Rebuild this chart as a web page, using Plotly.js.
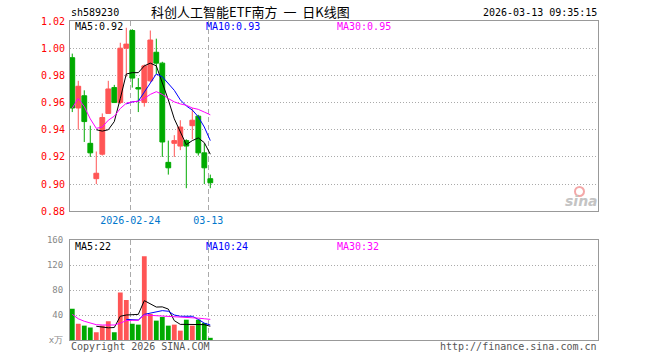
<!DOCTYPE html>
<html>
<head>
<meta charset="utf-8">
<script src="https://cdn.plot.ly/plotly-3.0.1.min.js"></script>
<style>html,body{margin:0;padding:0;background:#fff;}#chart{width:660px;height:360px;}</style>
</head>
<body>
<div id="chart"></div>
<script>
const dates = ['2026-02-02','2026-02-03','2026-02-04','2026-02-05','2026-02-06','2026-02-09','2026-02-10','2026-02-11','2026-02-12','2026-02-13','2026-02-24','2026-02-25','2026-02-26','2026-02-27','2026-03-02','2026-03-03','2026-03-04','2026-03-05','2026-03-06','2026-03-09','2026-03-10','2026-03-11','2026-03-12','2026-03-13'];
const openP  = [0.993,0.956,0.965,0.930,0.904,0.922,0.952,0.971,0.960,1.000,1.013,0.971,0.960,0.976,0.997,0.989,0.916,0.930,0.928,0.932,0.943,0.950,0.923,0.904];
const highP  = [0.996,0.976,0.969,0.943,0.924,0.952,0.976,0.973,1.004,1.015,1.014,0.978,0.988,1.013,1.007,0.990,0.932,0.936,0.947,0.933,0.956,0.951,0.930,0.907];
const lowP   = [0.953,0.940,0.931,0.920,0.900,0.921,0.952,0.960,0.959,0.979,0.971,0.953,0.957,0.975,0.981,0.920,0.907,0.920,0.925,0.897,0.933,0.921,0.900,0.897];
const closeP = [0.956,0.972,0.946,0.923,0.908,0.949,0.970,0.960,1.000,1.003,0.978,0.970,0.987,1.006,0.989,0.931,0.912,0.932,0.942,0.928,0.947,0.923,0.912,0.901];
const ma5P  = [null,null,null,null,0.940,0.939,0.940,0.946,0.963,0.981,0.982,0.982,0.987,0.989,0.987,0.975,0.962,0.948,0.9385,0.929,0.932,0.934,0.9305,0.922];
const ma10P = [null,null,null,null,null,null,null,null,null,0.959,0.9605,0.961,0.968,0.975,0.981,0.979,0.974,0.969,0.962,0.9575,0.9545,0.9495,0.942,0.932];
const ma30P = [0.956,0.963,0.957,0.948,0.941,0.942,0.947,0.950,0.9556,0.9595,0.9605,0.961,0.963,0.966,0.968,0.966,0.963,0.9605,0.959,0.958,0.956,0.955,0.953,0.951];
const volume = [50,26,23,20,12.4,23,30,12.4,76,64,26,24.6,134,41.6,31,36.8,23,24.6,15,32.5,23,32.5,27.3,3.5];
const ma5V  = [null,null,null,null,22,21,19.5,20,38,40,40,41,63,58,52.7,53,49.5,31,25,25,24.5,24.6,24.6,22];
const ma10V = [null,null,null,null,null,null,null,null,null,33,32,32,41,43,46,47,46,40,38,38,38,33,27,24];
const ma30V = [41,34,30,27,24.5,24,24,24,27,31,31.5,31.5,40,39.5,39,39,38.5,38,37.5,37,36,35,34,33];
const priceTicks = [0.88,0.90,0.92,0.94,0.96,0.98,1.00,1.02];
const volTicks = [0,40,80,120,160];
const volTickText = ['x万','40','80','120','160'];
const dateTickDates = ['2026-02-24','2026-03-13'];
const dateTickText = ['2026-02-24','03-13'];
const legendPrice = ['MA5:0.92','MA10:0.93','MA30:0.95'];
const legendVol = ['MA5:22','MA10:24','MA30:32'];
const code = 'sh589230';
const titleText = '科创人工智能ETF南方\u00a0\u00a0一\u00a0\u00a0日K线图';
const stamp = '2026-03-13 09:35:15';

const RED = '#ff5555', GREEN = '#00aa00';
const idx = dates.map((d, i) => i);
const upColor = closeP.map((c, i) => c >= openP[i] ? RED : GREEN);
const tickIdx = dateTickDates.map(d => dates.indexOf(d) - 0.33);

// pixel -> paper helpers (plot area: x 70..598, y 21..340)
const L = 70, R = 598, T = 21, B = 340;
const px = v => (v - L) / (R - L);
const py = v => (B - v) / (B - T);
const mono = 'DejaVu Sans Mono, monospace';

const traces = [
  {type:'candlestick', x: idx, open: openP, high: highP, low: lowP, close: closeP,
   xaxis:'x', yaxis:'y', hoverinfo:'skip', whiskerwidth:0,
   increasing:{line:{color:RED,width:1}, fillcolor:RED},
   decreasing:{line:{color:GREEN,width:1}, fillcolor:GREEN}},
  {type:'scatter', mode:'lines', x: idx, y: ma5P, xaxis:'x', yaxis:'y', line:{color:'#000',width:1}, hoverinfo:'skip'},
  {type:'scatter', mode:'lines', x: idx, y: ma10P, xaxis:'x', yaxis:'y', line:{color:'#0000ff',width:1}, hoverinfo:'skip'},
  {type:'scatter', mode:'lines', x: idx, y: ma30P, xaxis:'x', yaxis:'y', line:{color:'#ff00ff',width:1}, hoverinfo:'skip'},
  {type:'bar', x: idx, y: volume, xaxis:'x2', yaxis:'y2', width:0.8, marker:{color: upColor, line:{width:0}}, hoverinfo:'skip'},
  {type:'scatter', mode:'lines', x: idx, y: ma5V, xaxis:'x2', yaxis:'y2', line:{color:'#000',width:1}, hoverinfo:'skip'},
  {type:'scatter', mode:'lines', x: idx, y: ma10V, xaxis:'x2', yaxis:'y2', line:{color:'#0000ff',width:1}, hoverinfo:'skip'},
  {type:'scatter', mode:'lines', x: idx, y: ma30V, xaxis:'x2', yaxis:'y2', line:{color:'#ff00ff',width:1}, hoverinfo:'skip'}
];

const xRange = [-0.38, 87.6];
const axisCommon = {showline:true, mirror:true, linecolor:'#999', linewidth:1, zeroline:false, fixedrange:true};
const ann = (text, x, y, anchor, font) => ({text, x: px(x), y: py(y), xref:'paper', yref:'paper',
  xanchor: anchor, yanchor:'middle', showarrow:false, borderpad:0, font});
const layout = {
  width:660, height:360, margin:{l:L, r:660-R, t:T, b:360-B},
  paper_bgcolor:'#fff', plot_bgcolor:'#fff', showlegend:false,
  boxgap:0.2, boxgroupgap:0, bargap:0.2,
  xaxis: Object.assign({}, axisCommon, {anchor:'y', range:xRange, rangeslider:{visible:false},
    tickmode:'array', tickvals: tickIdx, ticktext: dateTickText, ticks:'',
    tickfont:{family:mono, size:10, color:'#0077cc'},
    showgrid:true, gridcolor:'#aaa', gridwidth:1, griddash:'5px,3px'}),
  xaxis2: Object.assign({}, axisCommon, {anchor:'y2', matches:'x', range:xRange,
    tickmode:'array', tickvals: tickIdx, showticklabels:false, ticks:'',
    showgrid:true, gridcolor:'#aaa', gridwidth:1, griddash:'5px,3px'}),
  yaxis: Object.assign({}, axisCommon, {domain:[py(211.3), 1], range:[0.88, 1.02],
    tickmode:'array', tickvals: priceTicks, ticktext: priceTicks.map(v => v.toFixed(2)),
    ticks:'', ticklabelstandoff:2, tickfont:{family:mono, size:10, color:'#ff0000'},
    showgrid:true, gridcolor:'#aaa', gridwidth:1, griddash:'1px,2px'}),
  yaxis2: Object.assign({}, axisCommon, {domain:[0, py(240)], range:[0, 160],
    tickmode:'array', tickvals: volTicks, ticktext: volTickText,
    ticks:'', ticklabelstandoff:4, tickfont:{family:mono, size:9, color:'#888'},
    showgrid:true, gridcolor:'#aaa', gridwidth:1, griddash:'1px,2px'}),
  annotations: [
    ann(code, 69.5, 12.5, 'left', {family:mono, size:10, color:'#000'}),
    ann(titleText, 250.5, 12, 'center', {family:'Noto Sans CJK SC', size:13, color:'#000'}),
    ann(stamp, 597.5, 12.5, 'right', {family:mono, size:10, color:'#000'}),
    ann(legendPrice[0], 74, 27, 'left', {family:mono, size:10, color:'#000'}),
    ann(legendPrice[1], 205, 27, 'left', {family:mono, size:10, color:'#0000ff'}),
    ann(legendPrice[2], 335.5, 27, 'left', {family:mono, size:10, color:'#ff00ff'}),
    ann(legendVol[0], 74, 246, 'left', {family:mono, size:10, color:'#000'}),
    ann(legendVol[1], 205, 246, 'left', {family:mono, size:10, color:'#0000ff'}),
    ann(legendVol[2], 335.5, 246, 'left', {family:mono, size:10, color:'#ff00ff'}),
    ann('Copyright 2026 SINA.COM', 69.5, 346.5, 'left', {family:mono, size:10, color:'#555'}),
    ann('http://finance.sina.com.cn', 597.5, 346.5, 'right', {family:mono, size:10, color:'#555'}),
    ann('<b><i>sina</i></b>', 581, 201, 'center', {family:'DejaVu Sans', size:14, color:'#c4c4c4'})
  ],
  shapes: [
    {type:'circle', xref:'paper', yref:'paper', x0: px(575), x1: px(584), y0: py(196), y1: py(187), line:{color:'#f4a8a8', width:2}}
  ]
};
Plotly.newPlot('chart', traces, layout, {staticPlot:true, displayModeBar:false});
</script>
</body>
</html>
